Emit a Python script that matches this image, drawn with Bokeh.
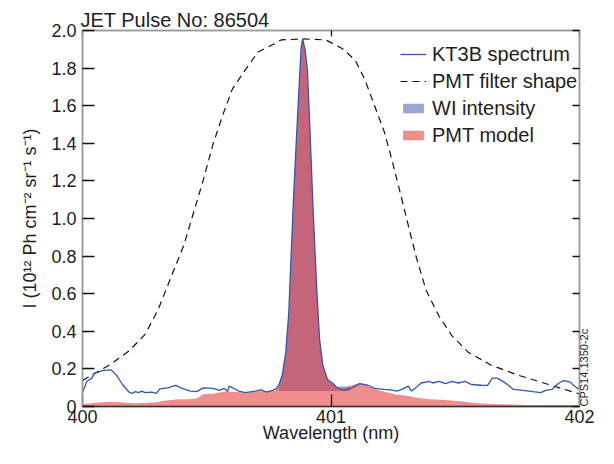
from math import pi
from bokeh.plotting import figure
from bokeh.models import (LinearAxis, FixedTicker, Legend, LegendItem,
                          Range1d, NumeralTickFormatter, CustomJSTickFormatter)
from bokeh.embed import file_html
from bokeh.resources import INLINE

FONT = "Liberation Sans"
TXT = "#1e1e1e"

# ---------------- data ----------------
kt3b_wl = [400.000, 400.018, 400.038, 400.047, 400.064, 400.077, 400.116, 400.135, 400.161, 400.187,
           400.200, 400.213, 400.226, 400.239, 400.252, 400.278, 400.297, 400.311, 400.343, 400.375,
           400.395, 400.434, 400.460, 400.486, 400.525, 400.551, 400.570, 400.584, 400.590, 400.609,
           400.629, 400.655, 400.694, 400.720, 400.740, 400.765, 400.779, 400.791, 400.804, 400.818,
           400.830, 400.839, 400.850, 400.863, 400.873, 400.880, 400.886, 400.896, 400.905, 400.915,
           400.928, 400.943, 400.954, 400.967, 400.986, 401.006, 401.025, 401.058, 401.084, 401.116,
           401.149, 401.175, 401.214, 401.240, 401.266, 401.285, 401.311, 401.324, 401.344, 401.363,
           401.396, 401.409, 401.435, 401.461, 401.487, 401.513, 401.539, 401.565, 401.604, 401.630,
           401.649, 401.669, 401.695, 401.714, 401.734, 401.773, 401.812, 401.844, 401.864, 401.890,
           401.909, 401.935, 401.961, 401.981, 401.993, 402.000]
kt3b_i = [0.074, 0.134, 0.151, 0.177, 0.182, 0.191, 0.195, 0.169, 0.117, 0.077,
          0.070, 0.079, 0.074, 0.082, 0.074, 0.077, 0.070, 0.094, 0.099, 0.112,
          0.099, 0.082, 0.079, 0.099, 0.096, 0.086, 0.096, 0.082, 0.108, 0.096,
          0.082, 0.074, 0.082, 0.088, 0.077, 0.086, 0.094, 0.117, 0.169, 0.289,
          0.497, 0.790, 1.135, 1.481, 1.740, 1.912, 1.955, 1.895, 1.791, 1.481,
          1.049, 0.617, 0.358, 0.221, 0.143, 0.125, 0.099, 0.086, 0.099, 0.122,
          0.113, 0.096, 0.091, 0.088, 0.082, 0.091, 0.108, 0.082, 0.103, 0.125,
          0.134, 0.125, 0.134, 0.122, 0.134, 0.125, 0.134, 0.117, 0.113, 0.112,
          0.151, 0.151, 0.131, 0.113, 0.091, 0.086, 0.079, 0.074, 0.086, 0.091,
          0.117, 0.138, 0.131, 0.108, 0.096, 0.095]

filter_wl = [400.000, 400.109, 400.187, 400.252, 400.304, 400.356, 400.408, 400.447, 400.486, 400.525,
             400.564, 400.603, 400.655, 400.707, 400.772, 400.800, 400.889, 400.979, 401.045, 401.097,
             401.136, 401.175, 401.214, 401.246, 401.279, 401.311, 401.344, 401.383, 401.435, 401.487,
             401.552, 401.643, 401.747, 401.876, 401.981, 402.000]
filter_i = [0.138, 0.221, 0.295, 0.384, 0.514, 0.687, 0.859, 1.032, 1.205, 1.394,
            1.549, 1.688, 1.791, 1.886, 1.930, 1.950, 1.955, 1.950, 1.904, 1.843,
            1.740, 1.601, 1.463, 1.308, 1.135, 0.963, 0.790, 0.617, 0.480, 0.376,
            0.289, 0.221, 0.169, 0.117, 0.074, 0.068]

pmt_wl = [400.000, 400.044, 400.109, 400.148, 400.200, 400.252, 400.297, 400.330, 400.382, 400.421,
          400.460, 400.486, 400.525, 400.551, 400.584, 400.596, 400.616, 400.655, 400.720, 400.772,
          400.791, 400.804, 400.818, 400.830, 400.839, 400.850, 400.863, 400.873, 400.880, 400.886,
          400.896, 400.905, 400.915, 400.928, 400.943, 400.954, 400.967, 400.986, 401.006, 401.025,
          401.045, 401.084, 401.116, 401.149, 401.188, 401.227, 401.266, 401.311, 401.344, 401.396,
          401.461, 401.526, 401.591, 401.656, 401.720, 401.786, 401.915, 402.000]
pmt_i = [0.010, 0.019, 0.025, 0.022, 0.017, 0.019, 0.022, 0.030, 0.039, 0.039,
         0.042, 0.065, 0.068, 0.074, 0.082, 0.079, 0.077, 0.074, 0.082, 0.082,
         0.110, 0.165, 0.285, 0.490, 0.780, 1.125, 1.470, 1.730, 1.900, 1.945,
         1.885, 1.780, 1.470, 1.040, 0.610, 0.355, 0.218, 0.140, 0.122, 0.097,
         0.095, 0.113, 0.125, 0.108, 0.088, 0.074, 0.062, 0.056, 0.047, 0.039,
         0.034, 0.027, 0.017, 0.013, 0.010, 0.008, 0.008, 0.007]

wi_wl = [400.790, 400.804, 400.818, 400.830, 400.839, 400.850, 400.863, 400.873, 400.880, 400.886,
         400.896, 400.905, 400.915, 400.928, 400.943, 400.954, 400.967, 400.986, 401.006, 401.025,
         401.076]
wi_top = [0.112, 0.169, 0.289, 0.497, 0.790, 1.135, 1.481, 1.740, 1.912, 1.955,
          1.895, 1.791, 1.481, 1.049, 0.617, 0.358, 0.221, 0.143, 0.125, 0.106,
          0.106]
wi_baseline = 0.082

x_ticks = [400, 401, 402]
y_ticks = [0, 0.2, 0.4, 0.6, 0.8, 1.0, 1.2, 1.4, 1.6, 1.8, 2.0]

title_text = "JET Pulse No: 86504"
x_label = "Wavelength (nm)"
y_label = "I (10\u00b9\u00b2 Ph cm\u207b\u00b2 sr\u207b\u00b9 s\u207b\u00b9)"
figure_id = "CPS14.1350-2c"

# ---------------- layout (px) ----------------
W, H = 598, 448
B_LEFT, B_RIGHT, B_TOP, B_BOTTOM = 82, 8, 30, 42
FRAME_H = H - B_TOP - B_BOTTOM

p = figure(width=W, height=H, x_range=Range1d(400, 402), y_range=Range1d(0, 2.0),
           output_backend="svg", toolbar_location=None,
           min_border_left=B_LEFT, min_border_right=B_RIGHT,
           min_border_top=B_TOP, min_border_bottom=B_BOTTOM,
           title=title_text)
p.background_fill_color = "white"
p.border_fill_color = "white"
p.xgrid.visible = False
p.ygrid.visible = False
p.outline_line_color = "#9a9a9a"
p.outline_line_width = 1.5

p.title.text_font = FONT
p.title.text_font_size = "20px"
p.title.text_font_style = "normal"
p.title.text_color = TXT
p.title.align = "left"
p.title.offset = -2
p.title.standoff = 0

# fills
wi = p.varea(x=wi_wl, y1=wi_baseline, y2=wi_top, fill_color="#9aa6d4", fill_alpha=1.0)
pmt = p.varea(x=pmt_wl, y1=0, y2=pmt_i, fill_color="#e73030", fill_alpha=0.55)
# lines
filt = p.line(filter_wl, filter_i, line_color="#111111", line_width=1.2, line_dash="7 5")
spec = p.line(kt3b_wl, kt3b_i, line_color="#3456b0", line_width=1.3)

blank = CustomJSTickFormatter(code="return ''")

def style_axis(ax):
    ax.major_label_text_font = FONT
    ax.major_label_text_font_size = "18px"
    ax.major_label_text_color = TXT
    ax.axis_label_text_font = FONT
    ax.axis_label_text_font_size = "18px"
    ax.axis_label_text_font_style = "normal"
    ax.axis_label_text_color = TXT
    ax.major_tick_out = 0
    ax.minor_tick_in = 0
    ax.minor_tick_out = 0
    ax.major_tick_line_color = "#111111"
    ax.major_tick_line_width = 1.3

xa = p.xaxis[0]
style_axis(xa)
xa.ticker = FixedTicker(ticks=x_ticks)
xa.major_tick_in = 12
xa.axis_line_color = "#333333"
xa.axis_line_width = 1.5
xa.axis_label = x_label
xa.major_label_standoff = 3
xa.axis_label_standoff = -3

ya = p.yaxis[0]
style_axis(ya)
ya.ticker = FixedTicker(ticks=y_ticks)
ya.formatter = NumeralTickFormatter(format="0.0")
ya.major_label_overrides = {0: "0"}
ya.major_tick_in = 12
ya.axis_line_color = "#9a9a9a"
ya.axis_line_width = 1.5
ya.axis_label = y_label
ya.major_label_standoff = 6
ya.axis_label_standoff = 8

ra = LinearAxis(ticker=FixedTicker(ticks=y_ticks), formatter=blank)
style_axis(ra)
ra.major_label_standoff = 0
ra.major_tick_in = 7
ra.axis_line_color = "#9a9a9a"
ra.axis_line_width = 1.5
ra.axis_label = figure_id
ra.axis_label_text_font_size = "11px"
ra.axis_label_standoff = 4
_props = ra.properties()
if "axis_label_orientation" in _props:
    try:
        ra.axis_label_orientation = pi / 2
    except Exception:
        pass
if "axis_label_align" in _props:
    for _v in ("start", "left"):
        try:
            ra.axis_label_align = _v
            break
        except Exception:
            pass
p.add_layout(ra, "right")

ta = LinearAxis(ticker=FixedTicker(ticks=x_ticks), formatter=blank)
style_axis(ta)
ta.major_label_standoff = 0
ta.major_tick_in = 6
ta.axis_line_color = "#9a9a9a"
ta.axis_line_width = 1.5
p.add_layout(ta, "above")

# legend: left edge / bottom edge in px from the frame's bottom-left corner
LEG_PAD = 8
LEG_LEFT = 400 - B_LEFT
LEG_TOP = 26
LEG_HEIGHT = 121
legend = Legend(items=[
    LegendItem(label="KT3B spectrum", renderers=[spec]),
    LegendItem(label="PMT filter shape", renderers=[filt]),
    LegendItem(label="WI intensity", renderers=[wi]),
    LegendItem(label="PMT model", renderers=[pmt]),
], location=(LEG_LEFT, FRAME_H - (LEG_TOP - B_TOP) - LEG_HEIGHT))
legend.border_line_color = None
legend.background_fill_alpha = 0
legend.label_text_font = FONT
legend.label_text_font_size = "20px"
legend.label_text_color = TXT
legend.glyph_width = 26
legend.glyph_height = 12
legend.label_height = 24
legend.label_standoff = 6
legend.spacing = 3
legend.padding = LEG_PAD
legend.margin = 0
p.add_layout(legend)

open("out.html", "w").write(file_html(p, INLINE))
